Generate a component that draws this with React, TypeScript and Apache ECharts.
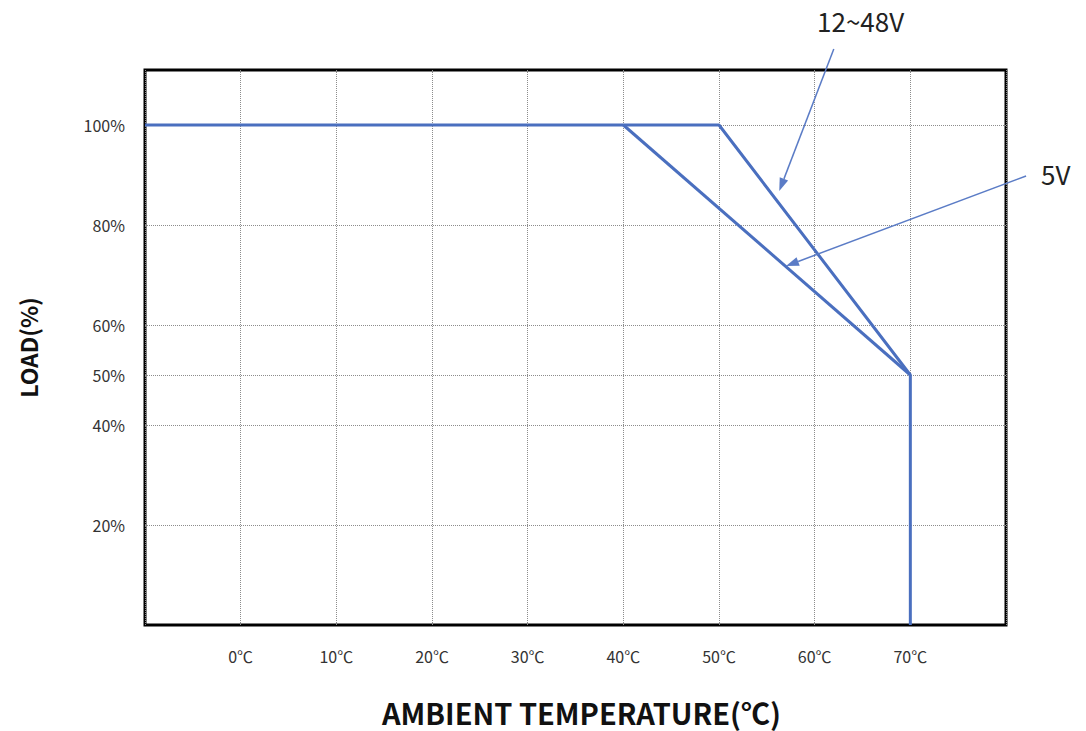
import React, { useEffect, useRef } from "react";
import * as echarts from "echarts";

const xTicks = [-10, 0, 10, 20, 30, 40, 50, 60, 70, 80];
const xLabelValues = [0, 10, 20, 30, 40, 50, 60, 70];
const yLabelValues = [20, 40, 50, 60, 80, 100];

const temp12_48 = [-10, 50, 70, 70];
const load12_48 = [100, 100, 50, 0];
const temp5 = [40, 70];
const load5 = [100, 50];

// annotations in data coordinates
const annotationNames = ["12~48V", "5V"];
const arrowStartX = [62.0, 82.1];
const arrowStartY = [115.2, 89.8];
const arrowEndX = [56.3, 57.0];
const arrowEndY = [86.8, 71.8];
const labelX = [64.8, 85.2];
const labelY = [120.9, 90.3];

const BLUE = "#4a6fbf";
const ARROW = "#5b7cc6";

export default function App() {
  const ref = useRef<HTMLDivElement>(null);
  useEffect(() => {
    if (!ref.current) return;
    document.body.style.margin = "0";
    const chart = echarts.init(ref.current, null, { renderer: "svg" });
    const fontFamily = "'Noto Sans CJK KR', 'Noto Sans', sans-serif";
    chart.setOption({
      animation: false,
      backgroundColor: "#fff",
      textStyle: { fontFamily },
      grid: {
        left: 145,
        right: 80,
        top: 70,
        bottom: 100,
        show: true,
        borderColor: "#000",
        borderWidth: 3,
        backgroundColor: "transparent",
      },
      xAxis: {
        type: "value",
        min: xTicks[0],
        max: xTicks[xTicks.length - 1],
        interval: 10,
        name: "AMBIENT TEMPERATURE(℃)",
        nameLocation: "middle",
        nameGap: 72,
        nameTextStyle: { fontSize: 29, fontWeight: "bold", color: "#111", fontFamily, padding: [0, 0, 0, 12] },
        axisLine: { show: false },
        axisTick: { show: false },
        axisLabel: {
          margin: 23,
          fontSize: 16,
          color: "#333",
          formatter: (v: number) => (xLabelValues.includes(v) ? `${v}℃` : ""),
        },
        splitLine: { show: true, lineStyle: { color: "#8c8c8c", type: "dotted", width: 1 } },
      },
      yAxis: {
        type: "value",
        min: 0,
        max: 111,
        interval: 10,
        name: "LOAD(%)",
        nameLocation: "middle",
        nameGap: 106,
        nameRotate: 90,
        nameTextStyle: { fontSize: 23, fontWeight: "bold", color: "#111", fontFamily },
        axisLine: { show: false },
        axisTick: { show: false },
        axisLabel: {
          margin: 20,
          fontSize: 16,
          color: "#333",
          showMaxLabel: false,
          formatter: (v: number) => (yLabelValues.includes(v) ? `${v}%` : ""),
        },
        splitLine: { show: false },
      },
      series: [
        {
          name: "5V",
          type: "line",
          data: temp5.map((t, i) => [t, load5[i]]),
          showSymbol: false,
          symbol: "none",
          lineStyle: { color: BLUE, width: 3 },
          z: 5,
          markLine: {
            silent: true,
            symbol: ["none", "none"],
            label: { show: false },
            lineStyle: { color: "#8c8c8c", type: "dotted", width: 1 },
            z: 1,
            data: yLabelValues.map((v) => ({ yAxis: v })),
          },
        },
        {
          name: "12~48V",
          type: "line",
          data: temp12_48.map((t, i) => [t, load12_48[i]]),
          showSymbol: false,
          symbol: "none",
          lineStyle: { color: BLUE, width: 3 },
          z: 5,
        },
        {
          name: "annotations",
          type: "custom",
          clip: false,
          silent: true,
          z: 6,
          encode: { x: [0, 2, 4], y: [1, 3, 5] },
          data: annotationNames.map((_, i) => [
            arrowStartX[i],
            arrowStartY[i],
            arrowEndX[i],
            arrowEndY[i],
            labelX[i],
            labelY[i],
          ]),
          renderItem: (params: any, api: any) => {
            const p0 = api.coord([api.value(0), api.value(1)]);
            const p1 = api.coord([api.value(2), api.value(3)]);
            const pt = api.coord([api.value(4), api.value(5)]);
            const dx = p1[0] - p0[0];
            const dy = p1[1] - p0[1];
            const len = Math.sqrt(dx * dx + dy * dy);
            const ux = dx / len;
            const uy = dy / len;
            const headLen = 13;
            const headW = 4.5;
            const bx = p1[0] - ux * headLen;
            const by = p1[1] - uy * headLen;
            return {
              type: "group",
              children: [
                {
                  type: "line",
                  shape: { x1: p0[0], y1: p0[1], x2: bx, y2: by },
                  style: { stroke: ARROW, lineWidth: 1.5 },
                },
                {
                  type: "polygon",
                  shape: {
                    points: [
                      [p1[0], p1[1]],
                      [bx - uy * headW, by + ux * headW],
                      [bx + uy * headW, by - ux * headW],
                    ],
                  },
                  style: { fill: ARROW },
                },
                {
                  type: "text",
                  x: pt[0],
                  y: pt[1],
                  style: {
                    text: annotationNames[params.dataIndex],
                    fill: "#222",
                    fontSize: 26,
                    fontFamily,
                    align: "center",
                    verticalAlign: "middle",
                  },
                },
              ],
            };
          },
        },
      ],
    });
    return () => chart.dispose();
  }, []);
  return (
    <div
      ref={ref}
      style={{ position: "fixed", left: 0, top: 0, width: 1086, height: 731, background: "#fff" }}
    />
  );
}
